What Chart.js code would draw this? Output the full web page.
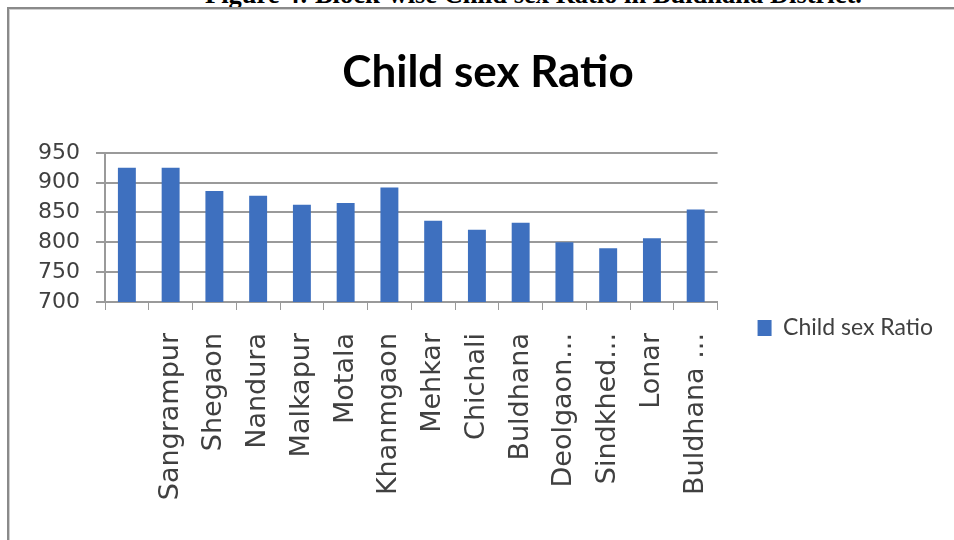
<!DOCTYPE html>
<html>
<head>
<meta charset="utf-8">
<script src="https://cdn.jsdelivr.net/npm/chart.js@4/dist/chart.umd.min.js"></script>
<style>
  html, body { margin: 0; padding: 0; background: #fff; }
  #wrap { position: relative; width: 954px; height: 540px; overflow: hidden; }
  #caption {
    position: absolute; left: 205px; top: -21px; line-height: 26px;
    font: bold 26.5px "Liberation Serif", "DejaVu Serif", serif; color: #000; white-space: nowrap;
  }
  #frame {
    position: absolute; left: 7px; top: 7px; right: -4px; bottom: -4px;
    border-top: 2px solid #8a8a8a; border-left: 2px solid #8a8a8a;
    box-shadow: inset 1px 1px 0 #cfcfcf;
  }
  #myChart { position: absolute; left: 0; top: 0; }
</style>
</head>
<body>
<div id="wrap">
  <div id="caption">Figure 4: Block-wise Child sex Ratio in Buldhana District.</div>
  <div id="frame"></div>
  <canvas id="myChart" width="954" height="540"></canvas>
</div>
<script>
let blocks = ["", "Sangrampur", "Shegaon", "Nandura", "Malkapur", "Motala", "Khanmgaon",
  "Mehkar", "Chichali", "Buldhana", "Deolgaon...", "Sindkhed...", "Lonar", "Buldhana ..."];
let ratio = [925, 925, 886, 878, 863, 866, 892, 836, 821, 833, 800, 790, 807, 855];
let yTicks = [700, 750, 800, 850, 900, 950];

let seriesName = "Child sex Ratio";
let textColor = "#404040";
let tickFont = "'DejaVu Sans', sans-serif";

let ctx = document.getElementById("myChart").getContext("2d");
let barChart = new Chart(ctx, {
  type: "bar",
  data: {
    labels: blocks,
    datasets: [
      {
        label: seriesName,
        data: ratio,
        backgroundColor: "#3e70bf",
        borderWidth: 0,
        categoryPercentage: 1,
        barPercentage: 0.41,
      },
    ],
  },
  options: {
    responsive: false,
    animation: false,
    layout: { padding: { left: 33, right: 11, top: 10, bottom: 8 } },
    plugins: {
      title: {
        display: true,
        text: seriesName,
        color: "#000",
        font: { family: "Lato", size: 44, weight: "bold" },
        padding: { top: 36, bottom: 54 },
      },
      legend: {
        position: "right",
        align: "center",
        // empty title just pushes the single entry down
        title: { display: true, text: " ", font: { size: 20 }, padding: { top: 0, bottom: 90 } },
        labels: {
          boxWidth: 14,
          boxHeight: 16,
          color: textColor,
          font: { family: "Lato", size: 23 },
          padding: 40,
        },
      },
      tooltip: { enabled: false },
    },
    scales: {
      x: {
        afterFit: (s) => { s.height = 230; },
        grid: { drawOnChartArea: false, drawTicks: true, tickLength: 8, color: "#9a9a9a", lineWidth: 1 },
        border: { color: "#9a9a9a", width: 2 },
        ticks: {
          autoSkip: false,
          minRotation: 90,
          maxRotation: 90,
          padding: 23,
          color: textColor,
          font: { family: tickFont, size: 27 },
        },
      },
      y: {
        min: 700,
        max: 950,
        afterFit: (s) => { s.width = 72; },
        afterBuildTicks: (s) => { s.ticks = yTicks.map((v) => ({ value: v })); },
        grid: { color: "#9a9a9a", lineWidth: 2, tickLength: 9 },
        border: { color: "#9a9a9a", width: 2 },
        ticks: {
          padding: 16,
          color: textColor,
          font: { family: tickFont, size: 22 },
        },
      },
    },
  },
});
</script>
</body>
</html>
